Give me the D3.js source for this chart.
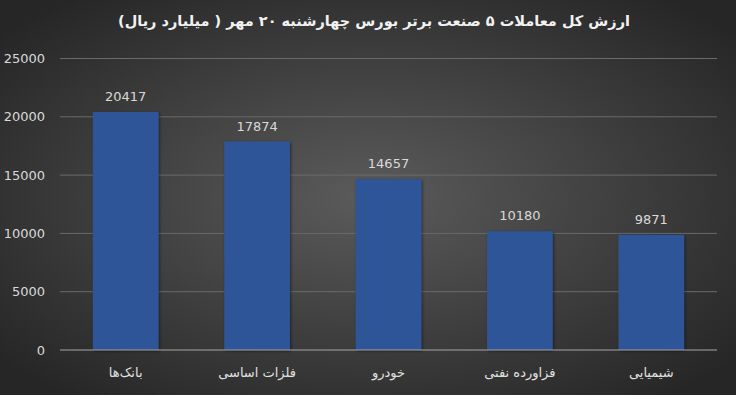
<!DOCTYPE html>
<html>
  <head>
    <meta charset="UTF-8" />
    <script src="https://d3js.org/d3.v7.min.js"></script>
    <style>
      body { margin: 0; background: #262626; }
      svg { display: block; }
    </style>
  </head>
  <body>
    <div id="chart"></div>
    <script>
      // داده‌ها
      var title = "ارزش کل معاملات ۵ صنعت برتر بورس چهارشنبه ۲۰ مهر ( میلیارد ریال)";
      var categories = ["بانک‌ها", "فلزات اساسی", "خودرو", "فزاورده نفتی", "شیمیایی"];
      var values = [20417, 17874, 14657, 10180, 9871];
      var yTicks = [0, 5000, 10000, 15000, 20000, 25000];

      var width = 736, height = 395;
      var margin = { top: 58.5, right: 19, bottom: 45, left: 60 };

      var svg = d3.select("#chart").append("svg")
        .attr("width", width).attr("height", height);

      // پس‌زمینه با گرادیان
      var defs = svg.append("defs");
      var grad = defs.append("radialGradient").attr("id", "bg")
        .attr("cx", "50%").attr("cy", "50%").attr("r", "65%");
      grad.append("stop").attr("offset", "0%").attr("stop-color", "#5b5b5b");
      grad.append("stop").attr("offset", "100%").attr("stop-color", "#262626");
      var shadow = defs.append("filter").attr("id", "sh")
        .attr("x", "-20%").attr("y", "-20%").attr("width", "140%").attr("height", "140%");
      shadow.append("feDropShadow").attr("dx", 1).attr("dy", 1)
        .attr("stdDeviation", 1.5).attr("flood-color", "#000").attr("flood-opacity", 0.5);

      svg.append("rect").attr("width", width).attr("height", height).attr("fill", "url(#bg)");

      var x = d3.scaleBand().domain(categories)
        .range([margin.left, width - margin.right])
        .paddingInner(0.5).paddingOuter(0.25);
      var y = d3.scaleLinear().domain([0, 25000])
        .range([height - margin.bottom, margin.top]);

      // خطوط شبکه
      svg.append("g").selectAll("line").data(yTicks.slice(1)).enter().append("line")
        .attr("x1", margin.left).attr("x2", width - margin.right)
        .attr("y1", (d) => y(d)).attr("y2", (d) => y(d))
        .attr("stroke", "#6a6a6a").attr("stroke-width", 1);

      // برچسب‌های محور y
      svg.append("g").selectAll("text").data(yTicks).enter().append("text")
        .attr("x", 45).attr("y", (d) => y(d)).attr("dy", "0.35em")
        .attr("text-anchor", "end")
        .attr("font-family", "DejaVu Sans, sans-serif").attr("font-size", 13)
        .attr("fill", "#d9d9d9").text((d) => d);

      // ستون‌ها
      svg.append("g").selectAll("rect").data(values).enter().append("rect")
        .attr("x", (d, i) => x(categories[i]))
        .attr("width", x.bandwidth())
        .attr("y", (d) => y(d))
        .attr("height", (d) => y(0) - y(d))
        .attr("fill", "#2f5597")
        .attr("filter", "url(#sh)");

      // خط محور
      svg.append("line")
        .attr("x1", margin.left).attr("x2", width - margin.right)
        .attr("y1", y(0)).attr("y2", y(0))
        .attr("stroke", "#a6a6a6").attr("stroke-width", 1);

      // مقدار ستون‌ها
      svg.append("g").selectAll("text").data(values).enter().append("text")
        .attr("x", (d, i) => x(categories[i]) + x.bandwidth() / 2)
        .attr("y", (d) => y(d) - 11)
        .attr("text-anchor", "middle")
        .attr("font-family", "DejaVu Sans, sans-serif").attr("font-size", 13)
        .attr("fill", "#d9d9d9").text((d) => d);

      // برچسب دسته‌ها
      svg.append("g").selectAll("text").data(categories).enter().append("text")
        .attr("x", (d) => x(d) + x.bandwidth() / 2)
        .attr("y", y(0) + 27)
        .attr("text-anchor", "middle")
        .attr("direction", "rtl")
        .attr("font-family", "DejaVu Sans, sans-serif").attr("font-size", 13)
        .attr("fill", "#e0e0e0").text((d) => d);

      // عنوان
      svg.append("text")
        .attr("x", 374).attr("y", 26)
        .attr("text-anchor", "middle")
        .attr("direction", "rtl")
        .attr("font-family", "DejaVu Sans, sans-serif").attr("font-size", 14.5)
        .attr("font-weight", "bold")
        .attr("fill", "#f2f2f2").text(title);
    </script>
  </body>
</html>
